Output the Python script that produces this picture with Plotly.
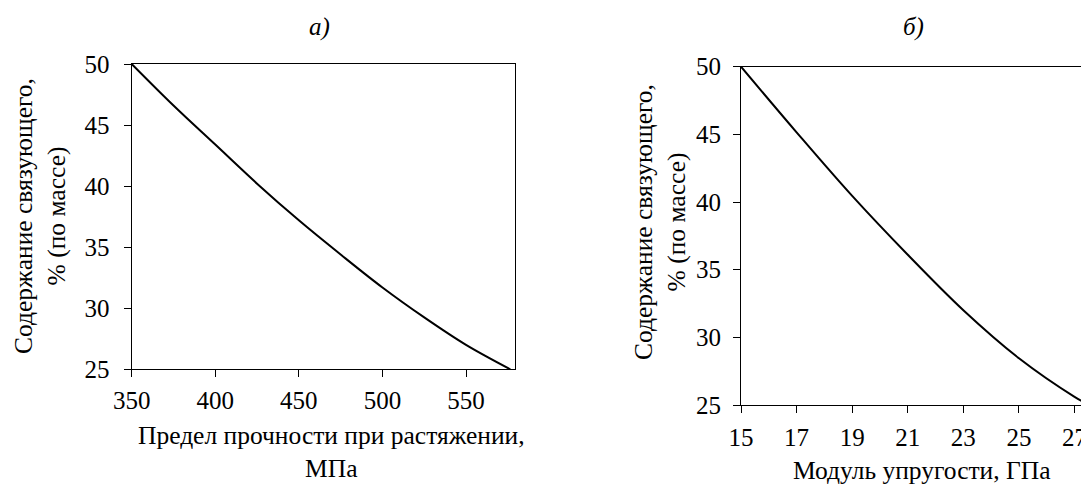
import plotly.graph_objects as go

# Panel a) — tensile strength (MPa) vs binder content (%)
strength_mpa = [350, 375, 400, 425, 450, 475, 500, 525, 550, 576.5]
binder_a = [50.0, 46.6, 43.4, 40.2, 37.2, 34.4, 31.7, 29.25, 27.0, 25.0]

# Panel б) — elastic modulus (GPa) vs binder content (%)
modulus_gpa = [15, 17, 19, 21, 23, 25, 27, 27.52]
binder_b = [50.0, 45.15, 40.45, 36.1, 32.0, 28.45, 25.6, 25.0]

xticks_a = [350, 400, 450, 500, 550]
xticks_b = [15, 17, 19, 21, 23, 25, 27]
yticks = [25, 30, 35, 40, 45, 50]

FONT = "Liberation Serif, Times New Roman, serif"
OFF = 8                      # page body margin offset
W, H = 1089 - OFF, 486 - OFF


def px(x):
    return (x - OFF) / W


def py(y):
    return 1 - (y - OFF) / H


fig = go.Figure()
fig.add_trace(go.Scatter(x=strength_mpa, y=binder_a, mode="lines", line=dict(color="black", width=2, shape="spline"),
                         xaxis="x", yaxis="y", showlegend=False))
fig.add_trace(go.Scatter(x=modulus_gpa, y=binder_b, mode="lines", line=dict(color="black", width=2, shape="spline"),
                         xaxis="x2", yaxis="y2", showlegend=False))

axis_common = dict(showgrid=False, zeroline=False, showline=True, linecolor="black", linewidth=1.2,
                   ticks="outside", ticklen=7, tickwidth=1.2, tickcolor="black", automargin=False,
                   tickfont=dict(family=FONT, size=25, color="black"))

fig.update_layout(
    width=W, height=H,
    margin=dict(l=0, r=0, t=0, b=0, autoexpand=False),
    paper_bgcolor="white", plot_bgcolor="white",
    font=dict(family=FONT, color="black"),
    xaxis=dict(domain=[px(131.7), px(515)], range=[350, 579.3], tickvals=xticks_a, anchor="y",
               mirror=True, ticklabelstandoff=2, **axis_common),
    yaxis=dict(domain=[py(369.3), py(64)], range=[25, 50], tickvals=yticks, anchor="x",
               mirror=True, ticklabelstandoff=9, **axis_common),
    xaxis2=dict(domain=[px(741), 1.0], range=[15, 27.52], tickvals=xticks_b, anchor="y2",
                mirror=True, ticklabelstandoff=3, **axis_common),
    yaxis2=dict(domain=[py(405), py(66.7)], range=[25, 50], tickvals=yticks, anchor="x2",
                mirror=False, ticklabelstandoff=7, **axis_common),
)

annotations = [
    dict(text="<i>а)</i>", x=px(319), y=py(27), size=25),
    dict(text="<i>б)</i>", x=px(913), y=py(27), size=25),
    dict(text="Предел прочности при растяжении,<br>МПа", x=px(331.7), y=py(452), size=25.5),
    dict(text="Модуль упругости, ГПа", x=px(921.7), y=py(470), size=25.5),
    dict(text="Содержание связующего,<br>% (по массе)", x=px(40), y=py(216), textangle=-90, size=25.5),
    dict(text="Содержание связующего,<br>% (по массе)", x=px(660), y=py(222), textangle=-90, size=25.5),
]
for a in annotations:
    size = a.pop("size")
    fig.add_annotation(xref="paper", yref="paper", xanchor="center", yanchor="middle",
                       showarrow=False, font=dict(family=FONT, size=size, color="black"), **a)

fig.write_html("out.html")
